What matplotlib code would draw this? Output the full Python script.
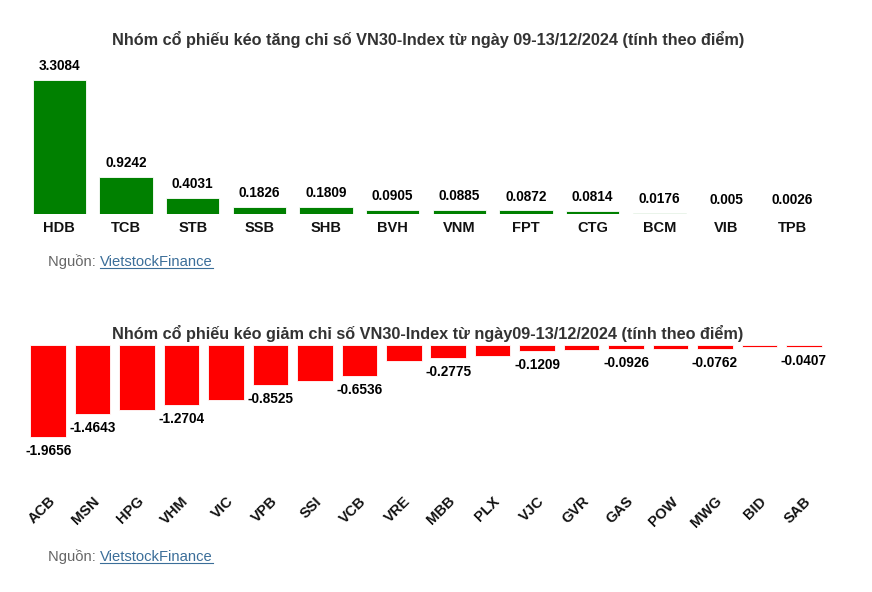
import matplotlib
matplotlib.use("Agg")
import matplotlib.pyplot as plt
from matplotlib.lines import Line2D

plt.rcParams['font.family'] = ['Liberation Sans', 'DejaVu Sans']

up_labels = ["HDB", "TCB", "STB", "SSB", "SHB", "BVH", "VNM", "FPT", "CTG", "BCM", "VIB", "TPB"]
up_values = [3.3084, 0.9242, 0.4031, 0.1826, 0.1809, 0.0905, 0.0885, 0.0872, 0.0814, 0.0176, 0.005, 0.0026]
up_text = ["3.3084", "0.9242", "0.4031", "0.1826", "0.1809", "0.0905", "0.0885", "0.0872", "0.0814", "0.0176", "0.005", "0.0026"]

down_labels = ["ACB", "MSN", "HPG", "VHM", "VIC", "VPB", "SSI", "VCB", "VRE", "MBB", "PLX", "VJC",
               "GVR", "GAS", "POW", "MWG", "BID", "SAB"]
down_values = [-1.9656, -1.4643, -1.38, -1.2704, -1.17, -0.8525, -0.77, -0.6536, -0.34, -0.2775, -0.23,
               -0.1209, -0.11, -0.0926, -0.085, -0.0762, -0.05, -0.0407]
down_text = ["-1.9656", "-1.4643", "", "-1.2704", "", "-0.8525", "", "-0.6536", "", "-0.2775", "",
             "-0.1209", "", "-0.0926", "", "-0.0762", "", "-0.0407"]

title_up = "Nhóm cổ phiếu kéo tăng chỉ số VN30-Index từ ngày 09-13/12/2024 (tính theo điểm)"
title_down = "Nhóm cổ phiếu kéo giảm chỉ số VN30-Index từ ngày09-13/12/2024 (tính theo điểm)"

W, H = 872, 592
fig = plt.figure(figsize=(W / 100, H / 100), dpi=100)
fig.patch.set_facecolor("white")

def ax_rect(x0, y_top, x1, y_bot):
    return [x0 / W, 1 - y_bot / H, (x1 - x0) / W, (y_bot - y_top) / H]

# ---- top chart
ax1 = fig.add_axes(ax_rect(26, 70, 826, 214))
xs = list(range(len(up_labels)))
ax1.bar(xs, up_values, width=0.8, color="#008000", edgecolor="white", linewidth=0.6)
ax1.set_xlim(-0.5, len(up_labels) - 0.5)
ax1.set_ylim(0, max(up_values) * 144 / 134)
for x, v, t in zip(xs, up_values, up_text):
    ax1.annotate(t, (x, v), xytext=(0, 5), textcoords="offset points", ha="center", va="bottom",
                 fontsize=9.8, fontweight="bold", color="black")
ax1.set_xticks(xs)
ax1.set_xticklabels(up_labels, fontsize=10.5, fontweight="bold", color="#111111")
ax1.tick_params(axis="x", length=0, pad=5)
ax1.set_yticks([])
for s in ax1.spines.values():
    s.set_visible(False)
fig.text(428 / W, 1 - 40 / H, title_up, ha="center", va="center", fontsize=11.7,
         fontweight="bold", color="#333333")

# ---- bottom chart
ax2 = fig.add_axes(ax_rect(26, 345, 826, 490))
xs2 = list(range(len(down_labels)))
ax2.bar(xs2, down_values, width=0.8, color="#ff0000", edgecolor="white", linewidth=0.6)
ax2.set_xlim(-0.5, len(down_labels) - 0.5)
ax2.set_ylim(min(down_values) * 145 / 92.3, 0)
for x, v, t in zip(xs2, down_values, down_text):
    if t:
        ax2.annotate(t, (x, v), xytext=(0, -5), textcoords="offset points", ha="center", va="top",
                     fontsize=9.8, fontweight="bold", color="black")
ax2.set_xticks(xs2)
ax2.set_xticklabels(down_labels, fontsize=10.5, fontweight="bold", color="#111111",
                    rotation=45, ha="right", rotation_mode="anchor")
ax2.tick_params(axis="x", length=0, pad=3)
ax2.set_yticks([])
for s in ax2.spines.values():
    s.set_visible(False)
fig.text(428 / W, 1 - 333 / H, title_down, ha="center", va="center", fontsize=11.7,
         fontweight="bold", color="#333333")

# ---- source lines
link_texts = []
for y in (262, 557):
    t1 = fig.text(48 / W, 1 - y / H, "Nguồn: ", ha="left", va="center", fontsize=10.6, color="#666666")
    link_texts.append((t1, y))

fig.canvas.draw()
r = fig.canvas.get_renderer()
for t1, y in link_texts:
    bb = t1.get_window_extent(r)
    t2 = fig.text(bb.x1 / W, 1 - y / H, "VietstockFinance", ha="left", va="center", fontsize=10.6,
                  color="#3b6e99")
    fig.canvas.draw()
    bb2 = t2.get_window_extent(r)
    yline = bb2.y0 + 1
    fig.add_artist(Line2D([bb2.x0 / W, bb2.x1 / W], [yline / H, yline / H], color="#3b6e99",
                          linewidth=0.8, transform=fig.transFigure))

fig.savefig("out.png", dpi=100, facecolor="white")
